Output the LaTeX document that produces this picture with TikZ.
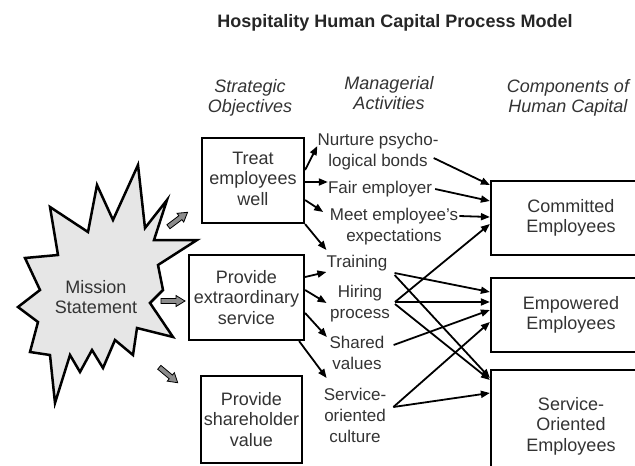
\documentclass[tikz,border=0pt]{standalone}
\usepackage{fontspec}
\setmainfont{Liberation Sans}
\usetikzlibrary{arrows.meta}
\definecolor{txt}{HTML}{333333}
\definecolor{starfill}{HTML}{E6E6E6}
\definecolor{barrow}{HTML}{8C8C8C}
\begin{document}
\begin{tikzpicture}[x=1pt,y=-1pt,
  every node/.style={font=\fontsize{18}{20.5}\selectfont, text=txt},
  box/.style={draw=black, line width=2.2pt, align=center, inner sep=0pt},
  midtxt/.style={align=center, inner sep=0pt, font=\fontsize{17}{21}\selectfont},
  head/.style={align=center, inner sep=0pt, font=\fontsize{18}{20.5}\selectfont\itshape},
  conn/.style={line width=1.8pt, -{Triangle[length=9pt,width=7pt]}},
  barr/.style={draw=black, line width=0.8pt, fill=barrow, line join=miter}]
\useasboundingbox (0,0) rectangle (635,466);
\begin{scope}
\clip (0,0) rectangle (635,466);
\fill[white] (0,0) rectangle (635,466);
% title and headers
\node[font=\fontsize{18}{20}\selectfont\bfseries, text=black!85, inner sep=0pt] (title) at (395,23) {Hospitality Human Capital Process Model};
\node[head] (h1) at (250,98) {Strategic\\Objectives};
\node[head] (h2) at (389,93) {Managerial\\Activities};
\node[head] (h3) at (568,98) {Components of\\Human Capital};
% starburst
\draw[line width=2.5pt, fill=starfill, line join=miter]
 (138,165) -- (145,228) -- (167,200) -- (154,240) -- (197,240) -- (158,265)
 -- (163,290) -- (150,303) -- (173,337) -- (137,328) -- (133,355) -- (115,340)
 -- (103,368) -- (92,350) -- (80,372) -- (70,355) -- (55,403) -- (50,355)
 -- (30,352) -- (38,322) -- (18,307) -- (40,290) -- (25,258) -- (58,255)
 -- (50,207) -- (88,232) -- (97,185) -- (113,220) -- cycle;
\node[align=center, inner sep=0pt] (mission) at (96,297) {Mission\\Statement};
% block arrows
\foreach \px/\py/\ang in {178/219.5/37, 173/301/0, 168.5/375/-40}{
  \draw[barr, shift={(\px,\py)}, rotate=\ang]
    (-12,-2.5) -- (3,-2.5) -- (3,-5.5) -- (12,0) -- (3,5.5) -- (3,2.5) -- (-12,2.5) -- cycle;
}
% strategic boxes
\node[box, minimum width=102pt, minimum height=85pt] (treat) at (253,180.5) {\raisebox{-3pt}{\begin{tabular}{@{}c@{}}Treat\\employees\\well\end{tabular}}};
\node[box, minimum width=115pt, minimum height=85pt] (extra) at (246.5,297.5) {Provide\\extraordinary\\service};
\node[box, minimum width=101pt, minimum height=87pt] (share) at (251.5,419.5) {Provide\\shareholder\\value};
% component boxes
\node[box, minimum width=160pt, minimum height=74pt] (comm) at (571,218) {Committed\\Employees};
\node[box, minimum width=160pt, minimum height=74pt] (empw) at (571,315) {Empowered\\Employees};
\node[box, minimum width=160pt, minimum height=112pt] (serv) at (571,426) {Service-\\Oriented\\Employees};
% activities
\node[midtxt] (nurt) at (378,151.5) {Nurture psycho-\\logical bonds};
\node[midtxt] (fair) at (380,189) {Fair employer};
\node[midtxt] (meet) at (394,226.5) {Meet employee's\\expectations};
\node[midtxt] (train) at (357,263) {Training};
\node[midtxt] (hire) at (360,304) {Hiring\\process};
\node[midtxt] (shar) at (357,353) {Shared\\values};
\node[midtxt] (svc) at (355,415) {Service-\\oriented\\culture};
% connectors from strategic objectives
\draw[conn] (treat.east |- 0,170) -- (nurt.west |- 0,146);
\draw[conn] (treat.east |- 0,182) -- (fair.west |- 0,182);
\draw[conn] (treat.east |- 0,200) -- ([xshift=-6.5pt]meet.west |- 0,212);
\draw[conn] (treat.south east) -- (train.west |- 0,250);
\draw[conn] (extra.east |- 0,277) -- (train.west |- 0,272);
\draw[conn] (extra.east |- 0,290) -- ([xshift=-3.5pt]hire.west |- 0,303);
\draw[conn] (extra.east |- 0,313) -- ([xshift=-2.5pt]shar.west |- 0,337);
\draw[conn] ([xshift=-6pt]extra.south east) -- ([xshift=3pt]svc.west |- 0,378);
% connectors to components
\draw[conn] ([xshift=-5pt]nurt.east |- 0,158) -- (comm.west |- 0,185);
\draw[conn] ([xshift=3pt]fair.east) -- (comm.west |- 0,201);
\draw[conn] ([xshift=1pt]meet.east |- 0,216) -- (comm.west |- 0,217);
\draw[conn] ([xshift=5pt]hire.east |- 0,302) -- (comm.west |- 0,224);
\draw[conn] ([xshift=7pt]train.east |- 0,273) -- (empw.west |- 0,292);
\draw[conn] ([xshift=7pt]train.east |- 0,275) -- (serv.west |- 0,378);
\draw[conn] ([xshift=5pt]hire.east |- 0,302) -- (empw.west |- 0,302);
\draw[conn] ([xshift=5pt]hire.east |- 0,304) -- (serv.west |- 0,380);
\draw[conn] ([xshift=9pt]shar.east |- 0,345) -- (empw.west |- 0,310);
\draw[conn] ([xshift=7pt]svc.east |- 0,407) -- (empw.west |- 0,322);
\draw[conn] ([xshift=7pt]svc.east |- 0,407) -- (serv.west |- 0,393);
\end{scope}
\end{tikzpicture}
\end{document}
